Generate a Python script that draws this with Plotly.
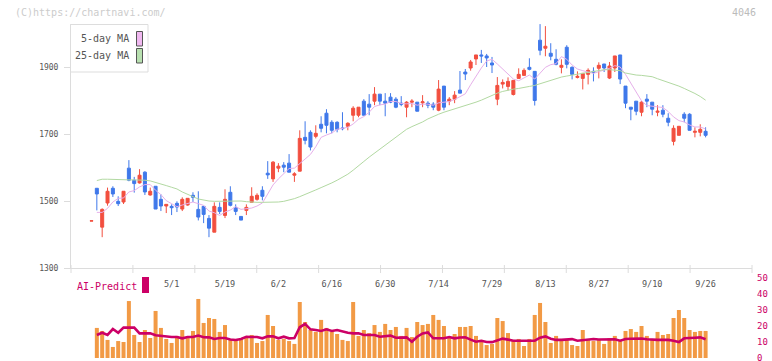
import plotly.graph_objects as go

# ---------------- data ----------------
dates = ["4/9","4/10","4/11","4/14","4/15","4/16","4/17","4/18","4/21","4/22","4/23","4/24","4/25","4/28","4/30",
         "5/1","5/2","5/7","5/8","5/9","5/12","5/13","5/14","5/15","5/16","5/19","5/20","5/21","5/22","5/23","5/26","5/27","5/28","5/29","5/30",
         "6/2","6/3","6/4","6/5","6/6","6/9","6/10","6/11","6/12","6/13","6/16","6/17","6/18","6/19","6/20","6/23","6/24","6/25","6/26","6/27","6/30",
         "7/1","7/2","7/3","7/4","7/7","7/8","7/9","7/10","7/11","7/14","7/15","7/16","7/17","7/18","7/22","7/23","7/24","7/25","7/28","7/29","7/30","7/31",
         "8/1","8/4","8/5","8/6","8/7","8/8","8/12","8/13","8/14","8/15","8/18","8/19","8/20","8/21","8/22","8/25","8/26","8/27","8/28","8/29",
         "9/1","9/2","9/3","9/4","9/5","9/8","9/9","9/10","9/11","9/12","9/16","9/17","9/18","9/19","9/22","9/24","9/25","9/26"]

tick_labels = ["5/1","5/19","6/2","6/16","6/30","7/14","7/29","8/13","8/27","9/10","9/26"]

opens = [1440,1538,1422,1494,1538,1499,1497,1598,1562,1554,1586,1518,1544,1505,1485,1484,1493,1476,1488,1517,
         1475,1484,1448,1407,1481,1457,1526,1481,1454,1472,1496,1505,1532,1583,1566,1598,1607,1613,1577,1589,
         1690,1705,1693,1729,1762,1735,1735,1718,1723,1756,1756,1798,1789,1798,1819,1798,1810,1804,1792,1780,
         1795,1795,1793,1792,1789,1771,1843,1798,1804,1831,1885,1897,1924,1936,1933,1912,1804,1849,1842,1818,
         1866,1875,1899,1887,1980,1956,1941,1923,1899,1959,1899,1869,1866,1878,1887,1896,1909,1867,1897,1936,
         1843,1780,1798,1765,1804,1795,1765,1771,1747,1678,1696,1759,1759,1705,1705,1708]
highs = [1441,1538,1478,1540,1544,1514,1529,1622,1572,1595,1589,1540,1544,1520,1490,1490,1499,1511,1508,1526,
         1529,1484,1458,1496,1496,1535,1544,1490,1454,1490,1541,1523,1544,1619,1619,1613,1616,1640,1586,1711,
         1738,1711,1726,1753,1774,1741,1738,1765,1735,1783,1780,1804,1819,1840,1819,1822,1822,1810,1813,1798,
         1804,1795,1816,1798,1795,1861,1843,1810,1828,1888,1894,1921,1936,1951,1939,1930,1870,1863,1869,1860,
         1896,1896,1926,1887,2028,2022,1971,1953,1923,1965,1902,1887,1881,1896,1899,1914,1909,1915,1933,1936,
         1843,1780,1798,1798,1819,1795,1786,1786,1762,1726,1723,1765,1762,1720,1729,1720]
lows = [1440,1472,1392,1486,1512,1485,1491,1559,1525,1552,1518,1516,1476,1470,1464,1458,1467,1470,1486,1497,
        1442,1434,1392,1407,1461,1449,1484,1458,1443,1458,1496,1501,1502,1566,1557,1586,1586,1586,1557,1589,
        1669,1651,1687,1705,1702,1702,1705,1711,1711,1738,1750,1756,1756,1786,1786,1753,1792,1777,1783,1750,
        1780,1768,1780,1777,1771,1768,1771,1786,1792,1822,1861,1889,1906,1912,1900,1882,1786,1836,1830,1815,
        1866,1875,1890,1785,1935,1932,1920,1905,1881,1896,1863,1866,1833,1848,1857,1866,1885,1864,1885,1849,
        1777,1741,1756,1753,1780,1756,1753,1750,1723,1666,1696,1735,1711,1690,1693,1690]
closes = [1441,1521,1475,1529,1521,1492,1529,1562,1552,1577,1527,1529,1476,1485,1490,1480,1482,1505,1508,1511,
          1452,1460,1419,1484,1469,1505,1487,1469,1443,1481,1514,1517,1514,1578,1616,1604,1601,1586,1581,1687,
          1681,1661,1702,1717,1726,1711,1714,1716,1732,1777,1780,1756,1780,1819,1798,1792,1795,1780,1789,1795,
          1798,1768,1796,1786,1780,1834,1780,1804,1816,1822,1879,1915,1936,1933,1927,1906,1845,1854,1857,1860,
          1878,1890,1893,1800,1950,1962,1932,1908,1905,1908,1878,1872,1881,1890,1884,1905,1897,1903,1933,1864,
          1792,1774,1768,1795,1798,1774,1768,1759,1735,1717,1723,1747,1711,1708,1714,1696]

ma5 = [None,1466,1466,1478,1497,1508,1509,1527,1531,1542,1549,1549,1532,1519,1501,1492,1483,1488,1493,1497,
       1492,1487,1470,1465,1457,1467,1473,1483,1475,1477,1479,1485,1494,1521,1548,1566,1583,1597,1598,1612,
       1627,1639,1662,1690,1697,1703,1714,1717,1720,1730,1744,1752,1765,1782,1787,1789,1797,1797,1791,1790,
       1791,1786,1789,1789,1786,1793,1795,1797,1803,1811,1820,1847,1874,1897,1918,1923,1909,1893,1878,1864,
       1859,1868,1876,1864,1882,1899,1907,1910,1931,1923,1906,1894,1889,1886,1881,1886,1891,1896,1904,1900,
       1878,1853,1826,1799,1785,1782,1781,1779,1767,1751,1740,1736,1727,1721,1721,1715]

ma25 = [None,1561,1565,1565,1564,1563,1563,1563,1563,1563,1562,1560,1556,1550,1546,1541,1536,1527,1519,1513,
        1506,1502,1500,1499,1499,1500,1501,1501,1500,1498,1496,1496,1496,1496,1496,1497,1499,1502,1507,1513,
        1519,1526,1533,1540,1546,1554,1562,1571,1580,1592,1606,1618,1631,1643,1656,1668,1680,1692,1703,1714,
        1722,1728,1736,1745,1753,1759,1765,1770,1774,1778,1783,1789,1795,1801,1808,1817,1822,1827,1831,1834,
        1836,1838,1842,1845,1850,1856,1862,1866,1870,1873,1876,1879,1881,1884,1888,1890,1892,1892,1891,1889,
        1882,1878,1876,1875,1874,1871,1865,1860,1854,1848,1843,1836,1829,1821,1812,1801]

# bottom panel (from 2nd session onward)
volume = [18.8,16.9,11.3,6.9,10.6,10.0,35.6,14.4,10.0,17.5,12.5,29.4,18.8,11.9,9.4,13.8,17.5,12.5,16.9,36.9,
          21.9,25.0,24.4,16.3,20.6,11.3,11.3,12.5,12.5,14.4,9.4,10.6,26.9,20.0,11.3,11.9,10.6,8.8,35.0,22.5,
          17.5,16.3,23.8,18.8,16.3,15.0,11.3,10.6,35.0,13.8,17.5,15.6,20.6,16.3,21.3,17.5,19.4,13.8,18.8,13.1,
          22.5,20.6,21.3,26.9,23.8,20.0,13.1,15.0,19.4,19.4,20.0,13.8,11.3,8.1,8.8,25.0,23.1,15.6,11.3,11.9,
          7.5,11.9,26.9,34.4,22.5,9.4,13.8,11.9,11.3,8.1,7.5,17.5,11.9,10.6,11.3,8.8,12.5,13.8,10.6,16.9,
          18.1,16.3,20.0,13.8,11.3,16.3,14.4,15.0,25.0,30.0,25.0,17.5,16.3,16.9,16.9]
ai_predict = [14.4,15.8,14.4,18.1,15.8,19.0,19.0,19.0,15.4,15.4,15.4,14.2,13.8,13.1,13.1,13.1,12.3,13.1,13.1,14.0,
              13.0,12.9,11.9,12.5,12.5,11.6,11.3,11.9,13.3,13.1,13.1,12.3,13.5,13.5,12.3,13.3,12.3,12.5,19.2,21.3,
              17.9,17.5,16.9,17.9,16.9,17.5,16.5,15.8,15.4,15.4,14.4,14.4,14.4,13.3,13.5,14.0,12.7,12.9,12.9,10.2,
              13.3,15.4,16.0,12.3,12.3,12.3,13.1,12.3,12.8,13.0,11.5,10.2,10.8,10.0,9.9,10.8,12.1,11.5,10.8,10.8,
              10.8,10.8,10.8,12.7,13.5,12.0,11.3,11.3,11.5,11.8,10.8,11.1,11.7,11.9,11.6,11.6,11.7,11.7,10.8,11.9,
              12.0,12.1,12.2,11.7,11.3,11.3,11.3,11.3,10.8,10.0,12.3,12.3,12.7,12.9,11.7]

n = len(dates)
for name, arr in [("opens", opens), ("highs", highs), ("lows", lows), ("closes", closes), ("ma5", ma5), ("ma25", ma25)]:
    if len(arr) != n:
        raise ValueError(f"{name} has {len(arr)} values, expected {n}")
for name, arr in [("volume", volume), ("ai_predict", ai_predict)]:
    if len(arr) != n - 1:
        raise ValueError(f"{name} has {len(arr)} values, expected {n-1}")

# ---------------- style ----------------
RED = "#f24f3f"
BLUE = "#3f78ea"
PINK = "#e6b0ea"
GREEN = "#b2d9a2"
ORANGE = "#f29a45"
MAG = "#cc0066"
AXIS = "#dcdcdc"
MONO = "DejaVu Sans Mono"

W, H = 772, 361
PL, PR, PT, PB = 71, 752, 24, 358          # plot area in screen pixels
ML, MR, MT, MB = PL, W - PR, PT, H - PB
PW, PH = PR - PL, PB - PT


def px_x(sx):
    return (sx - PL) / PW


def px_y(sy):
    return (PB - sy) / PH


fig = go.Figure()

fig.add_trace(go.Candlestick(
    x=dates, open=opens, high=highs, low=lows, close=closes,
    increasing=dict(line=dict(color=RED, width=1), fillcolor=RED),
    decreasing=dict(line=dict(color=BLUE, width=1), fillcolor=BLUE),
    whiskerwidth=0, showlegend=False, xaxis="x", yaxis="y", name="price"))
fig.add_trace(go.Scatter(x=dates, y=ma5, mode="lines", line=dict(color=PINK, width=1),
                         showlegend=False, xaxis="x", yaxis="y", name="5-day MA"))
fig.add_trace(go.Scatter(x=dates, y=ma25, mode="lines", line=dict(color=GREEN, width=1),
                         showlegend=False, xaxis="x", yaxis="y", name="25-day MA"))
fig.add_trace(go.Bar(x=dates[1:], y=volume, marker=dict(color=ORANGE, line=dict(width=0)),
                     showlegend=False, xaxis="x", yaxis="y2", name="volume"))
fig.add_trace(go.Scatter(x=dates[1:], y=ai_predict, mode="lines", line=dict(color=MAG, width=2.6),
                         showlegend=False, xaxis="x", yaxis="y3", name="AI-Predict"))

main_bottom = px_y(268)
sub_top = px_y(278)
sub_range = [0, 50]

fig.update_layout(
    width=W, height=H,
    margin=dict(l=ML, r=MR, t=MT, b=MB, pad=0, autoexpand=False),
    paper_bgcolor="white", plot_bgcolor="white",
    showlegend=False, bargap=0.25, boxgap=0.2,
    xaxis=dict(type="category", categoryorder="array", categoryarray=dates,
               range=[(PL - 91.5) / 5.34, (PR - 91.5) / 5.34],
               anchor="y", showline=True, linecolor=AXIS, linewidth=1, mirror=False,
               ticks="", tickvals=tick_labels, ticktext=tick_labels,
               tickfont=dict(family=MONO, size=8.5, color="#555"), ticklabelstandoff=8,
               showgrid=False, zeroline=False, rangeslider=dict(visible=False),
               fixedrange=True, automargin=False),
    yaxis=dict(domain=[main_bottom, 1], range=[1300, 1300 + (268 - PT) * 200 / 67],
               tickvals=[1300, 1500, 1700, 1900], ticks="outside", ticklen=6, tickcolor=AXIS,
               showline=True, linecolor=AXIS, linewidth=1,
               tickfont=dict(family=MONO, size=8, color="#555"), ticklabelstandoff=4,
               showgrid=False, zeroline=False, fixedrange=True, automargin=False),
    yaxis2=dict(domain=[0, sub_top], range=sub_range, anchor="x", visible=False,
                fixedrange=True, automargin=False),
    yaxis3=dict(overlaying="y2", side="right", anchor="x", range=sub_range,
                tickvals=[0, 10, 20, 30, 40, 50], ticks="", showline=False, showgrid=False,
                zeroline=False, tickfont=dict(family=MONO, size=9, color=MAG),
                ticklabelstandoff=4, ticklabeloverflow="allow",
                fixedrange=True, automargin=False),
)

shapes = []
# x-axis tick marks (11 equal divisions)
for k in range(12):
    shapes.append(dict(type="line", xref="x domain", yref="paper",
                       x0=k / 11, x1=k / 11, y0=px_y(273), y1=px_y(265),
                       line=dict(color=AXIS, width=1)))
# legend box
shapes.append(dict(type="rect", xref="paper", yref="paper",
                   x0=px_x(70.5), x1=px_x(148), y0=px_y(72), y1=px_y(24.5),
                   line=dict(color="#dddddd", width=1), fillcolor="white", layer="above"))
shapes.append(dict(type="rect", xref="paper", yref="paper",
                   x0=px_x(136.5), x1=px_x(142.5), y0=px_y(46), y1=px_y(31.5),
                   line=dict(color="#555555", width=1), fillcolor="#f0b8f0", layer="above"))
shapes.append(dict(type="rect", xref="paper", yref="paper",
                   x0=px_x(136.5), x1=px_x(142.5), y0=px_y(63), y1=px_y(48.5),
                   line=dict(color="#555555", width=1), fillcolor="#b8e0b0", layer="above"))
# AI-Predict marker box
shapes.append(dict(type="rect", xref="paper", yref="paper",
                   x0=px_x(142), x1=px_x(149), y0=px_y(293), y1=px_y(277),
                   line=dict(width=0), fillcolor=MAG, layer="above"))
fig.update_layout(shapes=shapes)

ann = [
    dict(text="5-day MA", x=px_x(131), y=px_y(39), xanchor="right", yanchor="middle",
         font=dict(family=MONO, size=10, color="#555")),
    dict(text="25-day MA", x=px_x(131), y=px_y(56), xanchor="right", yanchor="middle",
         font=dict(family=MONO, size=10, color="#555")),
    dict(text="(C)https://chartnavi.com/", x=px_x(13), y=px_y(12.5), xanchor="left", yanchor="middle",
         font=dict(family=MONO, size=10, color="#cccccc")),
    dict(text="4046", x=px_x(758), y=px_y(12.5), xanchor="right", yanchor="middle",
         font=dict(family=MONO, size=10, color="#bbbbbb")),
    dict(text="AI-Predict", x=px_x(75), y=px_y(286), xanchor="left", yanchor="middle",
         font=dict(family=MONO, size=10, color=MAG)),
]
for a in ann:
    a.update(xref="paper", yref="paper", showarrow=False)
fig.update_layout(annotations=ann)

# remove the default 8px page margin so the figure sits at the window's top-left corner
page_js = ("document.documentElement.style.margin='0';"
           "document.body.style.margin='0';"
           "document.body.style.overflow='hidden';")
fig.write_html("out.html", post_script=page_js, config={"displayModeBar": False})
